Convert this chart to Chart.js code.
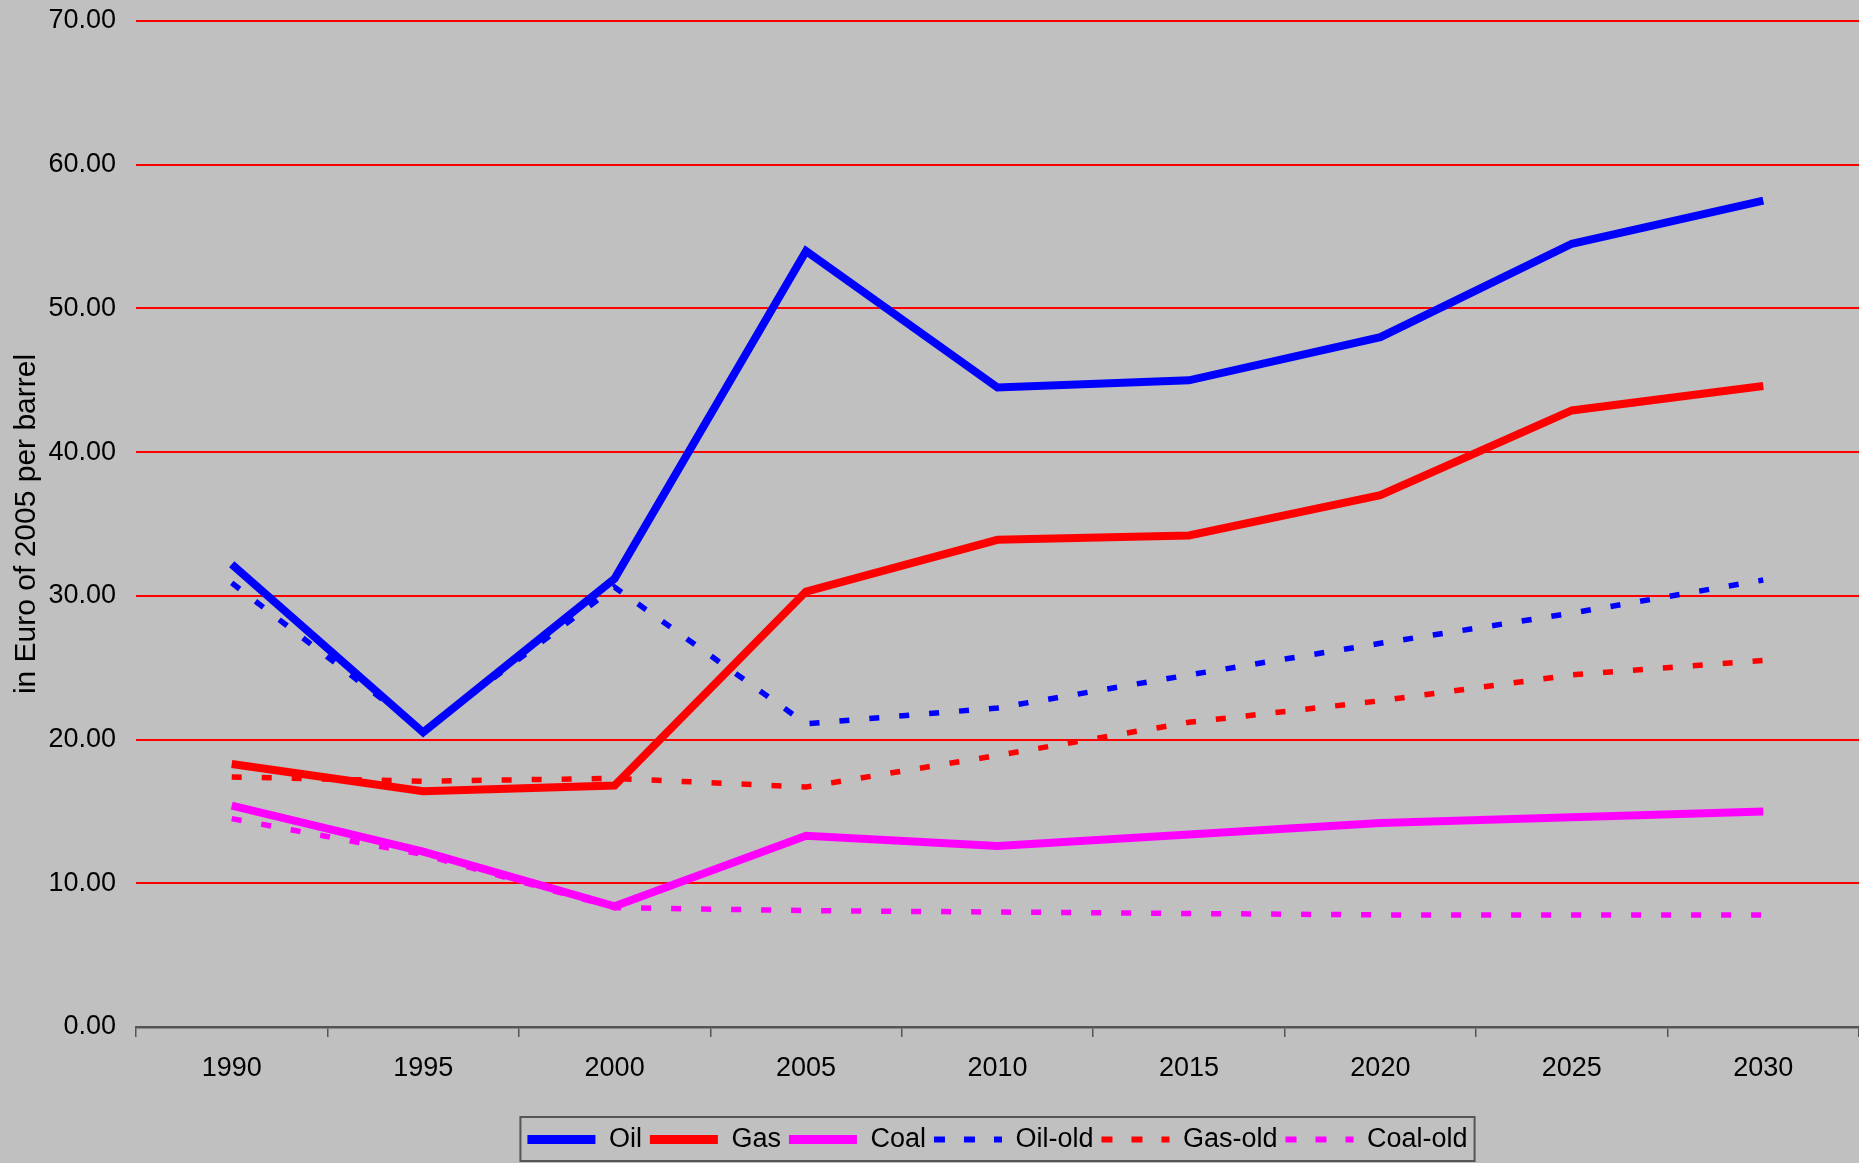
<!DOCTYPE html>
<html>
<head>
<meta charset="utf-8">
<script src="https://cdn.jsdelivr.net/npm/chart.js@4/dist/chart.umd.min.js"></script>
<style>
html, body { margin: 0; padding: 0; background: #C0C0C0; }
#wrap { width: 1859px; height: 1163px; position: relative; }
</style>
</head>
<body>
<div id="wrap"><canvas id="c" width="1859" height="1163"></canvas></div>
<script>
const years = ['1990','1995','2000','2005','2010','2015','2020','2025','2030'];
const oil     = [32.2, 20.5, 31.2, 54.0, 44.5, 45.0, 48.0, 54.5, 57.5];
const gas     = [18.3, 16.4, 16.8, 30.3, 33.9, 34.2, 37.0, 42.9, 44.6];
const coal    = [15.4, 12.2, 8.4, 13.3, 12.6, 13.4, 14.2, 14.6, 15.0];
const oilOld  = [30.9, 20.6, 30.6, 21.1, 22.2, 24.5, 26.7, 28.8, 31.1];
const gasOld  = [17.4, 17.1, 17.3, 16.7, 18.9, 21.2, 22.7, 24.5, 25.5];
const coalOld = [14.5, 12.0, 8.3, 8.1, 8.0, 7.9, 7.8, 7.8, 7.8];
const yTicks = [0, 10, 20, 30, 40, 50, 60, 70];
const yTitle = 'in Euro of 2005 per barrel';

const FONT = "'Liberation Sans', Arial, sans-serif";
const DASH = [10, 20];

function solid(label, data, color) {
  return { label, data, borderColor: color, backgroundColor: color, borderWidth: 8,
    borderDash: [], pointRadius: 0, tension: 0, borderJoinStyle: 'miter', borderCapStyle: 'butt', order: 1 };
}
function dashed(label, data, color) {
  return { label, data, borderColor: color, backgroundColor: color, borderWidth: 5.5,
    borderDash: DASH, pointRadius: 0, tension: 0, borderJoinStyle: 'miter', borderCapStyle: 'butt', order: 0 };
}

const legendPlace = {
  id: 'legendPlace',
  afterLayout(chart) {
    const lg = chart.legend;
    if (!lg) return;
    lg.left = chart.chartArea.left;
    lg.right = chart.chartArea.right;
    lg.width = lg.right - lg.left;
  },
  afterDraw(chart) {
    const lg = chart.legend;
    if (!lg || !lg.legendHitBoxes || !lg.legendHitBoxes.length) return;
    let l = Infinity, r = -Infinity, t = Infinity, b = -Infinity;
    lg.legendHitBoxes.forEach(h => { l = Math.min(l, h.left); r = Math.max(r, h.left + h.width); t = Math.min(t, h.top); b = Math.max(b, h.top + h.height); });
    const ctx = chart.ctx;
    ctx.save();
    ctx.strokeStyle = '#555555';
    ctx.lineWidth = 2;
    ctx.strokeRect(l - 7, t - 9, (r - l) + 14, (b - t) + 17);
    ctx.restore();
  }
};

new Chart(document.getElementById('c'), {
  type: 'line',
  data: {
    labels: years,
    datasets: [
      solid('Oil', oil, '#0000FF'),
      solid('Gas', gas, '#FF0000'),
      solid('Coal', coal, '#FF00FF'),
      dashed('Oil-old', oilOld, '#0000FF'),
      dashed('Gas-old', gasOld, '#FF0000'),
      dashed('Coal-old', coalOld, '#FF00FF')
    ]
  },
  options: {
    responsive: false,
    animation: false,
    devicePixelRatio: 1,
    layout: { padding: { top: 21, right: 0, bottom: 0, left: 0 } },
    plugins: {
      tooltip: { enabled: false },
      legend: {
        position: 'bottom',
        labels: {
          color: '#000000',
          font: { family: FONT, size: 27 },
          usePointStyle: true,
          pointStyle: 'line',
          pointStyleWidth: 68,
          boxWidth: 68,
          boxHeight: 26,
          padding: 8,
          generateLabels(chart) {
            return chart.data.datasets.map((ds, i) => ({
              text: ds.label,
              fillStyle: ds.borderColor,
              strokeStyle: ds.borderColor,
              lineWidth: ds.borderDash.length ? 6 : 9,
              lineDash: ds.borderDash.length ? [11, 19] : [],
              lineCap: 'butt',
              pointStyle: 'line',
              fontColor: '#000000',
              hidden: false,
              datasetIndex: i
            }));
          }
        }
      }
    },
    scales: {
      x: {
        type: 'category',
        offset: true,
        grid: { offset: true, drawOnChartArea: false, drawTicks: true, tickLength: 10, color: '#555555', lineWidth: 1.5 },
        border: { display: true, color: '#555555', width: 2.5 },
        ticks: { color: '#000000', font: { family: FONT, size: 27 }, padding: 15, maxRotation: 0 },
        afterFit(scale) { scale.height = 91; }
      },
      y: {
        min: 0, max: 70,
        afterBuildTicks(axis) { axis.ticks = yTicks.map(v => ({ value: v })); },
        afterFit(scale) { scale.width = 136; scale.paddingTop = 0; scale.paddingBottom = 0; },
        grid: {
          drawTicks: false,
          color: ctx => (ctx.tick && ctx.tick.value === 0) ? 'rgba(0,0,0,0)' : '#FF0000',
          lineWidth: 2
        },
        border: { display: false },
        ticks: { color: '#000000', font: { family: FONT, size: 27 }, padding: 20, callback: v => Number(v).toFixed(2) },
        title: { display: true, text: yTitle, color: '#000000', font: { family: FONT, size: 30 }, padding: { top: 9, bottom: 0 } }
      }
    }
  },
  plugins: [legendPlace]
});
</script>
</body>
</html>
